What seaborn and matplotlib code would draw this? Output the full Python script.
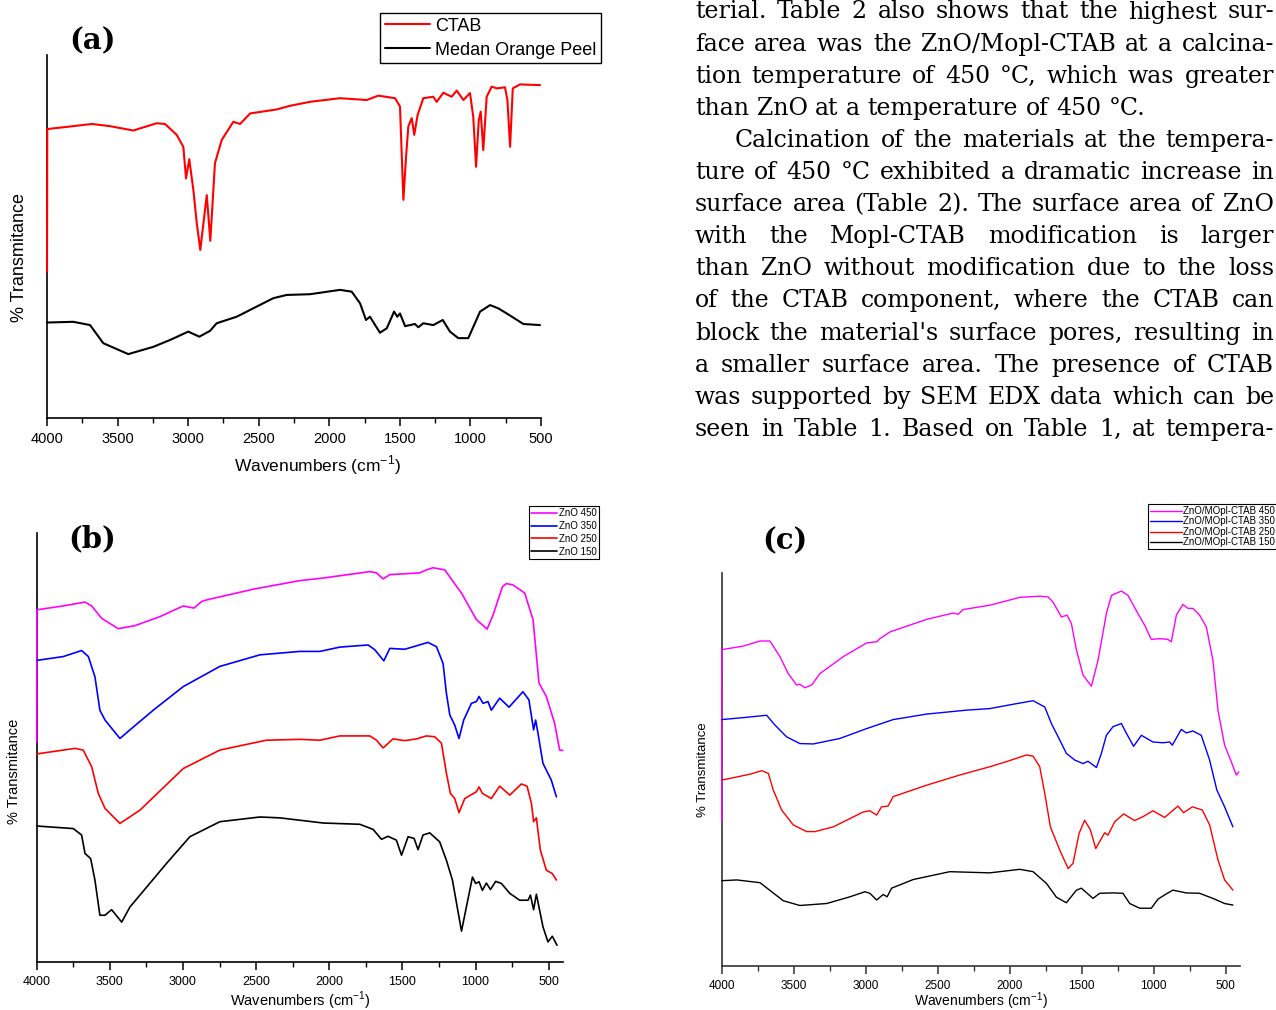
import matplotlib
matplotlib.use("Agg")
import matplotlib.pyplot as plt
import pandas as pd
import seaborn as sns
from matplotlib.ticker import MultipleLocator

# ---- (a) CTAB and Medan Orange Peel ----
ctab_wn = [4000, 3998, 3837, 3683, 3554, 3389, 3223, 3164, 3081, 3034, 3015, 2992, 2963, 2939,
           2914, 2868, 2843, 2810, 2762, 2680, 2632, 2561, 2373, 2278, 2137, 1924, 1735, 1653,
           1534, 1499, 1475, 1456, 1440, 1416, 1398, 1374, 1334, 1263, 1239, 1192, 1133, 1097,
           1050, 1003, 980, 960, 941, 927, 909, 885, 849, 814, 755, 738, 719, 700, 649, 507]
ctab_tr = [40.3, 79.6, 80.3, 81.0, 80.4, 79.2, 81.2, 81.0, 78.0, 74.7, 66.0, 71.3, 62.8, 53.7,
           46.3, 61.4, 48.8, 70.2, 76.6, 81.6, 81.0, 83.9, 85.0, 86.0, 87.1, 88.1, 87.6, 88.8,
           88.1, 85.8, 60.1, 72.0, 80.3, 82.6, 78.0, 83.5, 88.1, 88.5, 87.1, 89.6, 88.5, 90.2,
           87.6, 89.5, 83.0, 69.2, 82.1, 84.4, 73.8, 88.5, 91.3, 90.8, 91.1, 87.6, 74.7, 90.8,
           91.9, 91.7]
peel_wn = [4000, 3814, 3695, 3601, 3424, 3247, 3128, 2999, 2921, 2845, 2798, 2656, 2514, 2397,
           2302, 2137, 1924, 1841, 1782, 1740, 1712, 1641, 1593, 1541, 1518, 1499, 1463, 1393,
           1369, 1334, 1263, 1196, 1145, 1086, 1015, 932, 861, 802, 743, 625, 507]
peel_tr = [26.3, 26.5, 25.6, 20.6, 17.6, 19.6, 21.5, 23.8, 22.4, 24.0, 26.1, 27.9, 30.7, 33.0,
           33.9, 34.1, 35.3, 34.8, 31.6, 27.0, 27.9, 23.5, 24.7, 29.3, 27.9, 28.8, 25.3, 25.9,
           25.0, 26.1, 25.6, 27.0, 23.8, 22.0, 22.0, 29.3, 31.1, 30.2, 28.8, 25.9, 25.6]

# ---- (b) ZnO at four calcination temperatures ----
zno450_wn = [4000, 3999, 3818, 3670, 3624, 3556, 3443, 3328, 3158, 2998, 2925, 2873, 2839, 2520,
             2201, 2042, 1723, 1677, 1632, 1586, 1381, 1336, 1290, 1210, 1154, 1096, 994, 921,
             880, 816, 789, 744, 664, 607, 566, 516, 459, 425, 403]
zno450_tr = [51.3, 82.1, 83.0, 83.9, 83.0, 80.1, 77.7, 78.4, 80.5, 83.0, 82.5, 84.0, 84.4, 86.9,
             88.9, 89.5, 91.0, 90.7, 89.3, 90.3, 90.7, 91.4, 91.9, 91.4, 88.7, 86.0, 79.8, 77.6,
             80.9, 87.5, 88.2, 87.9, 86.0, 79.8, 65.0, 61.9, 55.6, 49.4, 49.3]
zno350_wn = [4000, 3818, 3693, 3647, 3602, 3568, 3533, 3488, 3431, 3363, 3203, 2998, 2748, 2474,
             2201, 2064, 1928, 1734, 1689, 1627, 1586, 1484, 1404, 1325, 1267, 1222, 1199, 1176,
             1142, 1113, 1081, 1028, 994, 976, 949, 915, 892, 835, 771, 676, 635, 603, 589, 573,
             539, 482, 447]
zno350_tr = [70.3, 71.2, 72.6, 71.2, 66.5, 58.7, 56.4, 54.5, 52.1, 54.1, 58.7, 64.2, 68.9, 71.6,
             72.4, 72.4, 73.4, 73.9, 72.8, 70.2, 73.1, 72.9, 73.7, 74.5, 73.5, 69.6, 62.6, 57.6,
             55.2, 52.1, 56.4, 60.3, 60.7, 61.9, 60.3, 60.7, 58.7, 61.5, 59.4, 63.0, 61.1, 54.1,
             56.4, 53.3, 46.3, 42.4, 38.5]
zno250_wn = [4000, 3738, 3682, 3624, 3579, 3533, 3431, 3294, 2998, 2748, 2429, 2201, 2064, 1928,
             1723, 1677, 1632, 1564, 1484, 1404, 1336, 1279, 1233, 1199, 1172, 1142, 1113, 1074,
             994, 976, 953, 892, 835, 766, 687, 648, 618, 603, 584, 557, 516, 475, 447]
zno250_tr = [48.5, 49.8, 49.4, 45.5, 39.3, 35.8, 32.3, 35.4, 45.1, 49.4, 51.7, 51.9, 51.7, 52.7,
             52.7, 51.7, 49.9, 52.0, 51.6, 52.0, 52.7, 52.5, 51.0, 44.0, 39.3, 38.1, 34.8, 38.1,
             39.7, 40.8, 39.3, 38.1, 41.0, 38.9, 41.5, 41.0, 37.0, 32.7, 33.6, 26.1, 21.4, 20.6,
             19.1]
zno150_wn = [4000, 3750, 3693, 3670, 3631, 3602, 3568, 3533, 3488, 3419, 3363, 3112, 2953, 2748,
             2474, 2338, 2042, 1791, 1700, 1643, 1598, 1541, 1506, 1461, 1420, 1393, 1359, 1313,
             1245, 1199, 1158, 1096, 1021, 999, 976, 953, 926, 898, 862, 823, 766, 698, 641, 625,
             603, 584, 539, 505, 475, 443]
zno150_tr = [31.7, 31.1, 29.6, 25.3, 24.1, 19.1, 10.9, 10.9, 12.2, 9.3, 12.8, 23.0, 29.2, 32.7,
             33.8, 33.6, 32.4, 32.1, 30.9, 28.6, 29.3, 28.4, 24.9, 29.2, 28.8, 26.2, 29.6, 30.1,
             28.0, 23.7, 19.1, 7.2, 19.8, 18.3, 18.7, 16.7, 18.4, 16.9, 18.8, 18.3, 16.0, 14.4,
             14.4, 15.6, 12.2, 15.8, 8.2, 4.7, 6.0, 3.9]

# ---- (c) ZnO/MOpl-CTAB at four calcination temperatures ----
mc450_wn = [4000, 3999, 3850, 3734, 3665, 3595, 3538, 3480, 3457, 3422, 3375, 3318, 3156, 2994,
            2924, 2901, 2832, 2577, 2393, 2358, 2323, 2138, 1930, 1791, 1733, 1699, 1640, 1601,
            1571, 1536, 1490, 1432, 1386, 1328, 1293, 1224, 1178, 1109, 1062, 1016, 958, 901,
            877, 842, 796, 762, 727, 681, 634, 588, 553, 507, 461, 426, 408]
mc450_tr = [36.7, 80.5, 81.4, 82.7, 82.7, 78.7, 74.4, 71.5, 71.7, 70.8, 71.5, 74.4, 78.7, 82.2,
            82.5, 83.3, 85.0, 88.2, 89.8, 89.5, 90.7, 91.8, 93.8, 94.1, 93.9, 92.6, 88.8, 89.3,
            87.1, 80.4, 74.0, 71.2, 77.8, 89.7, 94.3, 95.4, 94.3, 89.7, 86.7, 83.1, 83.3, 83.1,
            82.5, 89.3, 92.0, 91.0, 91.0, 89.3, 86.3, 77.8, 65.1, 56.2, 52.0, 48.6, 49.4]
mc350_wn = [4000, 3850, 3688, 3630, 3549, 3457, 3364, 3179, 2994, 2809, 2577, 2300, 2138, 1976,
            1837, 1756, 1710, 1652, 1606, 1548, 1490, 1456, 1397, 1363, 1328, 1282, 1224, 1189,
            1139, 1085, 1005, 935, 889, 870, 808, 773, 727, 669, 611, 561, 507, 449]
mc350_tr = [62.7, 63.2, 63.8, 61.3, 58.3, 56.6, 56.5, 57.9, 60.4, 62.7, 64.1, 65.1, 65.5, 66.6,
            67.5, 65.9, 61.7, 57.5, 54.1, 52.4, 51.5, 52.1, 50.5, 54.1, 58.7, 60.9, 61.7, 59.2,
            55.9, 58.7, 57.0, 56.8, 57.0, 56.2, 60.2, 59.3, 59.8, 58.7, 52.4, 44.8, 40.5, 35.4]
mc250_wn = [4000, 3804, 3722, 3676, 3642, 3584, 3503, 3410, 3352, 3225, 3017, 2971, 2924, 2890,
            2844, 2809, 2577, 2346, 2138, 2022, 1883, 1837, 1791, 1756, 1717, 1652, 1594, 1560,
            1518, 1479, 1439, 1402, 1340, 1317, 1270, 1208, 1132, 1074, 1005, 923, 831, 792, 731,
            662, 611, 553, 507, 449]
mc250_tr = [47.3, 48.8, 49.7, 49.0, 44.8, 39.7, 35.9, 34.2, 34.2, 35.4, 39.2, 39.5, 38.4, 40.5,
            40.7, 43.1, 46.0, 48.6, 50.7, 52.0, 53.7, 53.4, 50.7, 43.9, 35.4, 29.5, 24.8, 26.1,
            33.7, 37.1, 34.6, 29.9, 33.9, 33.3, 36.7, 38.7, 37.0, 38.0, 39.5, 37.8, 40.7, 39.0,
            40.5, 39.7, 35.9, 27.0, 21.9, 19.3]
mc150_wn = [4000, 3896, 3734, 3653, 3572, 3457, 3271, 3110, 3005, 2971, 2924, 2878, 2851, 2820,
            2670, 2416, 2138, 1930, 1837, 1744, 1675, 1606, 1536, 1502, 1421, 1375, 1282, 1213,
            1166, 1097, 1016, 970, 923, 866, 773, 681, 588, 507, 449]
mc150_tr = [21.7, 21.9, 21.2, 18.9, 16.6, 15.4, 15.9, 17.6, 18.9, 18.5, 16.8, 18.2, 17.6, 19.8,
            22.0, 24.0, 23.7, 24.6, 24.0, 21.0, 17.5, 16.1, 19.3, 19.8, 17.2, 18.5, 18.6, 18.5,
            15.9, 14.7, 14.7, 17.0, 18.1, 19.3, 18.6, 18.5, 17.2, 15.9, 15.5]

labels_a = ["CTAB", "Medan Orange Peel"]
labels_b = ["ZnO 450", "ZnO 350", "ZnO 250", "ZnO 150"]
labels_c = ["ZnO/MOpl-CTAB 450", "ZnO/MOpl-CTAB 350", "ZnO/MOpl-CTAB 250", "ZnO/MOpl-CTAB 150"]
colors_a = ["#ff0000", "#000000"]
colors_4 = ["#ff00ff", "#0000ff", "#ff0000", "#000000"]

paragraph = [
    "terial. Table 2 also shows that the highest sur-",
    "face area was the ZnO/Mopl-CTAB at a calcina-",
    "tion temperature of 450 °C, which was greater",
    "than ZnO at a temperature of 450 °C.",
    "Calcination of the materials at the tempera-",
    "ture of 450 °C exhibited a dramatic increase in",
    "surface area (Table 2). The surface area of ZnO",
    "with the Mopl-CTAB modification is larger",
    "than ZnO without modification due to the loss",
    "of the CTAB component, where the CTAB can",
    "block the material's surface pores, resulting in",
    "a smaller surface area. The presence of CTAB",
    "was supported by SEM EDX data which can be",
    "seen in Table 1. Based on Table 1, at tempera-",
]


def long_frame(names, wns, trs):
    parts = []
    for name, wn, tr in zip(names, wns, trs):
        parts.append(pd.DataFrame({"wn": wn, "tr": tr, "sample": name}))
    return pd.concat(parts, ignore_index=True)


def draw_panel(ax, df, names, colors, lw, xright, tick_fs, spine_col):
    sns.lineplot(data=df, x="wn", y="tr", hue="sample", hue_order=names,
                 palette=colors, sort=False, estimator=None, linewidth=lw,
                 legend=False, ax=ax, zorder=3, clip_on=False)
    ax.set_xlim(4000, xright)
    ax.set_ylim(0, 100)
    ax.set_yticks([])
    ax.xaxis.set_major_locator(MultipleLocator(500))
    ax.xaxis.set_minor_locator(MultipleLocator(250))
    sns.despine(ax=ax)
    for s in ["left", "bottom"]:
        ax.spines[s].set_color(spine_col)
        ax.spines[s].set_linewidth(1.2)
    ax.tick_params(axis="x", which="major", direction="out", length=6, width=1.1,
                   color=spine_col, labelsize=tick_fs, pad=4, labelcolor="black")
    ax.tick_params(axis="x", which="minor", direction="out", length=3.5, width=1.0,
                   color=spine_col)
    ax.set_xlabel("")
    ax.set_ylabel("")
    return ax.get_lines()[:len(names)]


sns.set_style("ticks")
plt.rcParams["font.family"] = ["Liberation Sans", "DejaVu Sans"]
plt.rcParams["mathtext.fontset"] = "custom"
plt.rcParams["mathtext.rm"] = "Liberation Sans"
plt.rcParams["text.color"] = "black"
plt.rcParams["legend.labelcolor"] = "black"

W, H = 1276, 1010
fig = plt.figure(figsize=(W / 100, H / 100), dpi=100)


def axes_px(x0, y0, x1, y1):
    return fig.add_axes([x0 / W, 1 - y1 / H, (x1 - x0) / W, (y1 - y0) / H])


ax_a = axes_px(47, 55, 541, 418)
ax_b = axes_px(36.7, 533, 563.3, 962)
ax_c = axes_px(721.7, 573, 1240, 966)

df_a = long_frame(labels_a, [ctab_wn, peel_wn], [ctab_tr, peel_tr])
df_b = long_frame(labels_b, [zno450_wn, zno350_wn, zno250_wn, zno150_wn],
                  [zno450_tr, zno350_tr, zno250_tr, zno150_tr])
df_c = long_frame(labels_c, [mc450_wn, mc350_wn, mc250_wn, mc150_wn],
                  [mc450_tr, mc350_tr, mc250_tr, mc150_tr])

h_a = draw_panel(ax_a, df_a, labels_a, colors_a, 1.5, 500, 10.5, "black")
h_b = draw_panel(ax_b, df_b, labels_b, colors_4, 1.2, 400, 9, "black")
h_c = draw_panel(ax_c, df_c, labels_c, colors_4, 1.0, 400, 8.5, "#333333")

xlab = "Wavenumbers (cm$^{-1}$)"
fig.text(318 / W, 1 - 465 / H, xlab, ha="center", va="center", fontsize=12.5)
fig.text(300 / W, 1 - 1001 / H, xlab, ha="center", va="center", fontsize=10.5)
fig.text(981 / W, 1 - 1001 / H, xlab, ha="center", va="center", fontsize=10)
fig.text(20 / W, 1 - 258 / H, "% Transmitance", rotation=90, ha="center", va="center", fontsize=13)
fig.text(14 / W, 1 - 771 / H, "% Transmitance", rotation=90, ha="center", va="center", fontsize=10.5)
fig.text(703 / W, 1 - 770 / H, "% Transmitance", rotation=90, ha="center", va="center", fontsize=9.5)

for lab, x, y in [("(a)", 92, 41), ("(b)", 92, 539), ("(c)", 785, 541)]:
    fig.text(x / W, 1 - y / H, lab, ha="center", va="center", fontsize=21,
             fontweight="bold", family="DejaVu Serif")

leg_kw = dict(frameon=True, fancybox=False, framealpha=1, edgecolor="black",
              bbox_transform=fig.transFigure, loc="upper left", borderaxespad=0)
leg = ax_a.legend(h_a, labels_a, bbox_to_anchor=(380 / W, 1 - 13 / H), fontsize=13,
                  handlelength=2.5, handletextpad=0.3, borderpad=0.25, labelspacing=0.4,
                  **leg_kw)
leg.get_frame().set_linewidth(1.0)
leg = ax_b.legend(h_b, labels_b, bbox_to_anchor=(529 / W, 1 - 506 / H), fontsize=7,
                  handlelength=2.6, handletextpad=0.2, borderpad=0.25, labelspacing=0.28,
                  **leg_kw)
leg.get_frame().set_linewidth(0.8)
leg = ax_c.legend(h_c, labels_c, bbox_to_anchor=(1148 / W, 1 - 504 / H), fontsize=7,
                  handlelength=3.3, handletextpad=0.15, borderpad=0.2, labelspacing=0.05,
                  **leg_kw)
leg.get_frame().set_linewidth(0.8)

# body text of the page next to panel (a), justified like the printed column
renderer = fig.canvas.get_renderer()
body_fs = 17
right_edge = 1274
for i, line in enumerate(paragraph):
    x0 = 735 if i == 4 else 695
    y = 1 - (18.5 + 32.1 * i) / H
    words = line.split(" ")
    texts = [fig.text(0, y, w, ha="left", va="baseline", fontsize=body_fs,
                      family="DejaVu Serif") for w in words]
    widths = [t.get_window_extent(renderer).width for t in texts]
    if i == 3:
        gap = 0.32 * body_fs * 100 / 72
    else:
        gap = (right_edge - x0 - sum(widths)) / (len(words) - 1)
    x = x0
    for t, wpx in zip(texts, widths):
        t.set_x(x / W)
        x += wpx + gap

fig.savefig("out.png", dpi=100)
